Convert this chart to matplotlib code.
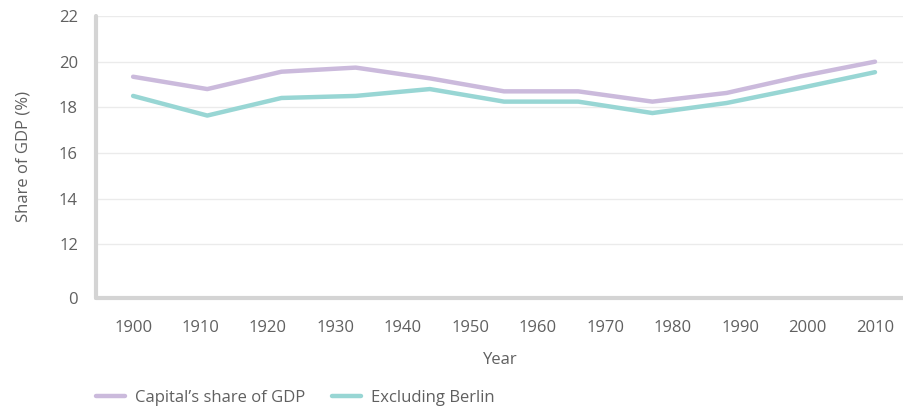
import matplotlib
matplotlib.use('Agg')
from matplotlib import pyplot as plt

plt.rcParams['font.family'] = ['Open Sans', 'DejaVu Sans']

years = [1900, 1911, 1922, 1933, 1944, 1955, 1966, 1977, 1988, 1999, 2010]
capital_share = [19.34, 18.80, 19.56, 19.74, 19.27, 18.70, 18.70, 18.25, 18.63, 19.36, 20.0]
excl_berlin = [18.50, 17.64, 18.41, 18.50, 18.80, 18.25, 18.25, 17.75, 18.19, 18.85, 19.54]
xticks = [1900, 1910, 1920, 1930, 1940, 1950, 1960, 1970, 1980, 1990, 2000, 2010]
ybottom = 9.65
yticks = [ybottom, 12, 14, 16, 18, 20, 22]
ytick_labels = ['0', '12', '14', '16', '18', '20', '22']

purple = '#cbbadc'
teal = '#98d6d4'
text_col = '#606060'
spine_col = '#d4d4d4'
fs = 12

fig = plt.figure(figsize=(9.04, 4.09), dpi=100)
ax = fig.add_axes([96 / 904, 1 - 298 / 409, 1 - 96 / 904, (298 - 16) / 409])

ax.plot(years, capital_share, color=purple, lw=3.2, solid_capstyle='round',
        solid_joinstyle='round', label='Capital\u2019s share of GDP', zorder=3)
ax.plot(years, excl_berlin, color=teal, lw=3.2, solid_capstyle='round',
        solid_joinstyle='round', label='Excluding Berlin', zorder=3)

ax.set_xlim(1894.5, 2014.3)
ax.set_ylim(ybottom, 22)
ax.set_xticks(xticks)
ax.set_yticks(yticks)
ax.set_yticklabels(ytick_labels)
ax.tick_params(axis='both', length=0, labelsize=fs, colors=text_col)
ax.tick_params(axis='x', pad=16)
ax.tick_params(axis='y', pad=13)

for y in yticks[1:]:
    ax.axhline(y, color='#ebebeb', lw=1, zorder=1)

for s in ['top', 'right']:
    ax.spines[s].set_visible(False)
for s in ['left', 'bottom']:
    ax.spines[s].set_color(spine_col)
    ax.spines[s].set_linewidth(3)
    ax.spines[s].set_capstyle('round')

ax.set_ylabel('Share of GDP (%)', fontsize=fs, color=text_col, labelpad=20)
ax.set_xlabel('Year', fontsize=fs, color=text_col, labelpad=11)

fig.legend(loc='lower left', bbox_to_anchor=(81 / 904, -0.03), ncol=2, frameon=False,
           fontsize=fs, labelcolor=text_col, handlelength=1.75, handletextpad=0.6,
           columnspacing=1.6)

fig.savefig('out.png', dpi=100)
